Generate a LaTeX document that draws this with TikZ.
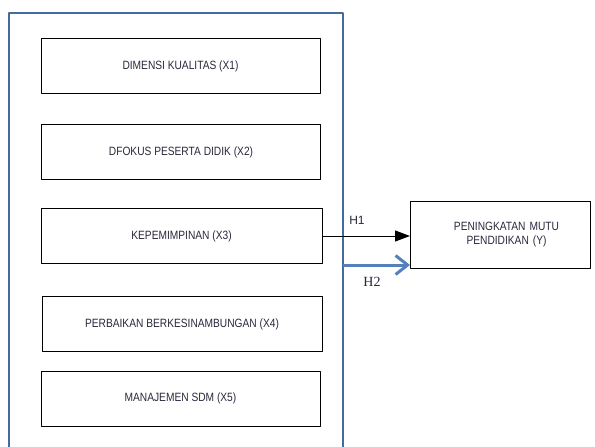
\documentclass[tikz,border=0pt]{standalone}
\usepackage{fontspec}
\setmainfont{Liberation Sans}
\newfontfamily\narrowsans{Liberation Sans}[FakeStretch=0.85]
\newfontfamily\serifh{Liberation Serif}
\usetikzlibrary{arrows.meta}
\definecolor{frameblue}{RGB}{68,107,160}
\definecolor{arrowblue}{RGB}{84,128,188}
\definecolor{textgray}{RGB}{40,40,60}
\tikzset{
	varbox/.style={draw,line width=1pt,minimum width=279pt,minimum height=55pt,font=\narrowsans\fontsize{12}{14}\selectfont,text=textgray,align=center,inner sep=0pt},
}
\begin{document}
\begin{tikzpicture}[x=1pt,y=-1pt,line join=round]
				\useasboundingbox (0,0) rectangle (595,447);
				\draw[frameblue,line width=2pt] (9,450)--(9,13)--(343,13)--(343,450);
				\node[varbox] (x1) at (180.5,66) {DIMENSI KUALITAS (X1)};
				\node[varbox] (x2) at (181,152) {DFOKUS PESERTA DIDIK (X2)};
				\node[varbox,minimum width=281pt] (x3) at (181.5,236) {KEPEMIMPINAN (X3)};
				\node[varbox,minimum width=280pt] (x4) at (182,324) {PERBAIKAN BERKESINAMBUNGAN (X4)};
				\node[varbox] (x5) at (180.5,398.5) {MANAJEMEN SDM (X5)};
				\node[varbox,minimum width=180pt,minimum height=67pt,text width=150pt,anchor=north west] (y) at (410,201) {\hspace*{12pt}PENINGKATAN MUTU\\\hspace*{12pt}PENDIDIKAN (Y)\\[6pt]};
				\coordinate (h2s) at (343,265);
				\draw[line width=1pt,-{Triangle[length=15pt,width=11pt]}] (x3.east)--(x3.east-|y.west);
				\draw[arrowblue,line width=3pt,-{Straight Barb[length=12pt,width=19pt]}] (h2s)--(h2s-|y.west);
				\node[font=\fontsize{12}{14}\selectfont,text=textgray] (h1) at (357,220) {H1};
				\node[font=\serifh\fontsize{14}{16}\selectfont,text=textgray] (h2) at (372,282) {H2};
\end{tikzpicture}
\end{document}
